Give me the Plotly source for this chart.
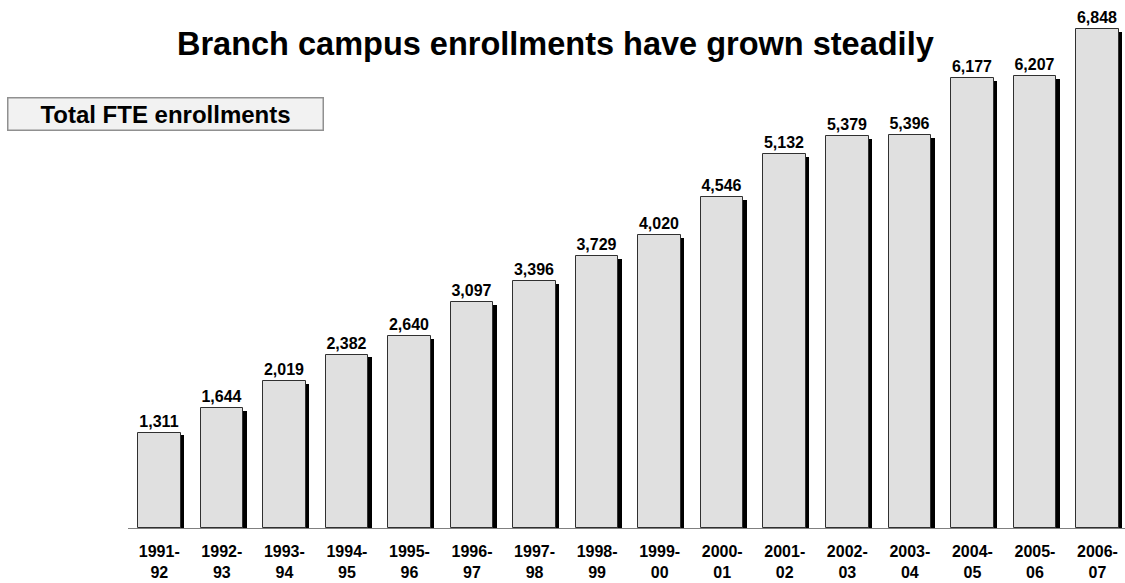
import plotly.graph_objects as go

# Academic years and total FTE enrollments at branch campuses
years = ["1991-92", "1992-93", "1993-94", "1994-95", "1995-96", "1996-97",
         "1997-98", "1998-99", "1999-00", "2000-01", "2001-02", "2002-03",
         "2003-04", "2004-05", "2005-06", "2006-07"]
enrollments = [1311, 1644, 2019, 2382, 2640, 3097, 3396, 3729, 4020, 4546,
               5132, 5379, 5396, 6177, 6207, 6848]
tick_labels = [y.replace("-", "-<br>") for y in years]

FONT = "Liberation Sans, Arial, sans-serif"
BAR_W = 0.68
SHADOW_SHIFT = 0.055     # horizontal shift of the drop shadow, in category units
SHADOW_DROP = 40         # shadow top sits slightly below the bar top, in data units

fig = go.Figure()

# drop shadow behind each bar
fig.add_trace(go.Bar(
    x=years, y=[v - SHADOW_DROP for v in enrollments],
    width=BAR_W, offset=-BAR_W / 2 + SHADOW_SHIFT,
    marker=dict(color="black", line=dict(width=0)),
    hoverinfo="skip", showlegend=False,
))

# main bars with value labels
fig.add_trace(go.Bar(
    x=years, y=enrollments,
    width=BAR_W, offset=-BAR_W / 2,
    marker=dict(color="#e0e0e0", line=dict(color="#303030", width=1)),
    text=enrollments, texttemplate="<b>%{y:,}</b>", textposition="outside",
    textfont=dict(family=FONT, size=16, color="black"),
    cliponaxis=False, showlegend=False,
))

fig.update_layout(
    width=1125, height=583,
    margin=dict(l=128, r=0, t=0, b=55),
    paper_bgcolor="white", plot_bgcolor="white",
    barmode="overlay", bargap=0,
    font=dict(family=FONT, color="black"),
    xaxis=dict(
        type="category", range=[-0.5, 15.44],
        tickmode="array", tickvals=years, ticktext=tick_labels,
        tickfont=dict(family=FONT, size=16, color="black", weight="bold"),
        showgrid=False, showline=True, linecolor="#808080", linewidth=1,
        ticks="", ticklabelstandoff=9, fixedrange=True,
    ),
    yaxis=dict(range=[0, 7250], visible=False, fixedrange=True),
    annotations=[
        dict(text="<b>Branch campus enrollments have grown steadily</b>",
             xref="paper", yref="paper", x=(555 - 128) / 997, xanchor="center",
             y=1 - 44 / 528, yanchor="middle", showarrow=False,
             font=dict(family=FONT, size=32.5, color="black")),
        dict(text="<b>Total FTE enrollments</b>",
             xref="paper", yref="paper", x=(165 - 128) / 997, xanchor="center",
             y=1 - 113.5 / 528, yanchor="middle", showarrow=False,
             width=312, height=29, bgcolor="#f2f2f2",
             bordercolor="#909090", borderwidth=1.5, borderpad=1,
             font=dict(family=FONT, size=24, color="black")),
    ],
)

fig.write_html("out.html")
